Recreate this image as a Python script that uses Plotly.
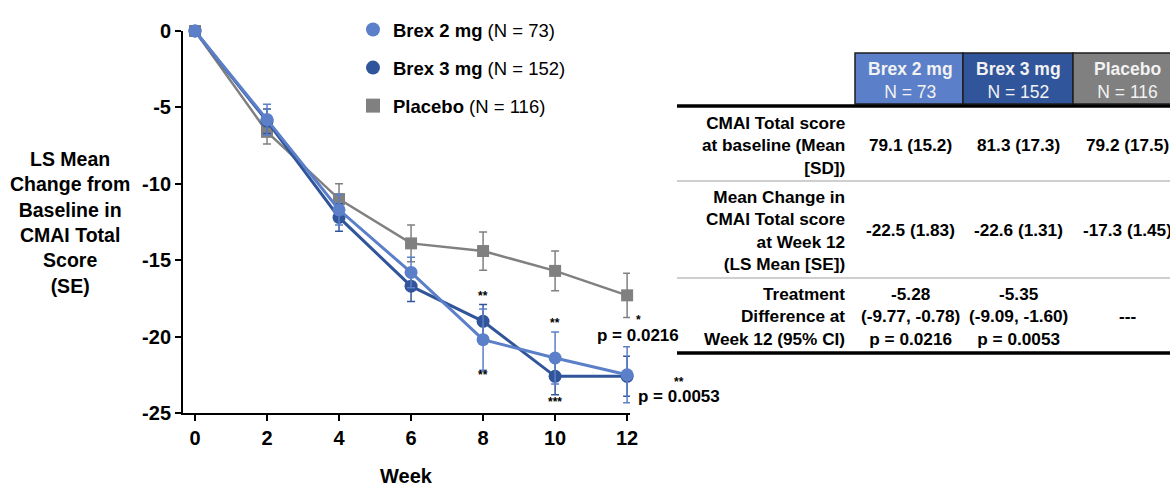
import plotly.graph_objects as go

# ---------------- data ----------------
weeks = [0, 2, 4, 6, 8, 10, 12]
brex2 = [0, -5.8, -11.7, -15.8, -20.2, -21.4, -22.5]
brex2_se = [0, 1.0, 1.0, 1.0, 2.0, 1.7, 1.83]
brex3 = [0, -5.9, -12.2, -16.7, -19.0, -22.6, -22.6]
brex3_se = [0, 0.8, 0.9, 1.0, 1.1, 1.2, 1.31]
placebo = [0, -6.6, -11.0, -13.9, -14.4, -15.7, -17.3]
placebo_se = [0, 0.8, 1.0, 1.2, 1.25, 1.3, 1.45]

legend_names = ["<b>Brex 2 mg</b> (N = 73)", "<b>Brex 3 mg</b> (N = 152)", "<b>Placebo</b> (N = 116)"]
x_ticks = [0, 2, 4, 6, 8, 10, 12]
y_ticks = [0, -5, -10, -15, -20, -25]

table_headers = [("Brex 2 mg", "N = 73"), ("Brex 3 mg", "N = 152"), ("Placebo", "N = 116")]
row_labels = [
    "CMAI Total score<br>at baseline (Mean<br>[SD])",
    "Mean Change in<br>CMAI Total score<br>at Week 12<br>(LS Mean [SE])",
    "Treatment<br>Difference at<br>Week 12 (95% CI)",
]
row_values = [
    ["79.1 (15.2)", "81.3 (17.3)", "79.2 (17.5)"],
    ["-22.5 (1.83)", "-22.6 (1.31)", "-17.3 (1.45)"],
    ["-5.28<br>(-9.77, -0.78)<br>p = 0.0216", "-5.35<br>(-9.09, -1.60)<br>p = 0.0053", "---"],
]

C2 = "#5B7FC8"
C3 = "#31559A"
CP = "#808080"

W, H = 1170, 487
def X(px):
    return px / W
def Y(py):
    return 1 - py / H

FONT = "Liberation Sans"

fig = go.Figure()

series = [
    (placebo, placebo_se, CP, "square", 12, 2.5),
    (brex3, brex3_se, C3, "circle", 13, 3),
    (brex2, brex2_se, C2, "circle", 13, 3),
]
for vals, se, col, sym, ms, lw in series:
    fig.add_trace(go.Scatter(
        x=weeks, y=vals, mode="lines+markers", showlegend=False,
        line=dict(color=col, width=lw),
        marker=dict(color=col, symbol=sym, size=ms),
        error_y=dict(type="data", array=se, color=col, thickness=1.5, width=4),
        cliponaxis=False,
    ))

# legend-only traces
for name, col, sym in zip(legend_names, [C2, C3, CP], ["circle", "circle", "square"]):
    fig.add_trace(go.Scatter(
        x=[None], y=[None], mode="markers", name=name, legendgroup=name,
        marker=dict(color=col, symbol=sym, size=14),
    ))

ann = []
star_font = dict(family=FONT, size=12, color="black")
pfont = dict(family=FONT, size=17, color="black")
def A(**kw):
    kw.setdefault("showarrow", False)
    kw.setdefault("xanchor", "center")
    kw.setdefault("yanchor", "middle")
    ann.append(kw)

# significance markers
A(x=8, y=brex3[4] + brex3_se[4], text="<b>**</b>", yshift=9, font=star_font)
A(x=8, y=brex2[4] - brex2_se[4], text="<b>**</b>", yshift=-5, font=star_font)
A(x=10, y=brex2[5] + brex2_se[5], text="<b>**</b>", yshift=9, font=star_font)
A(x=10, y=brex3[5] - brex3_se[5], text="<b>***</b>", yshift=-7, font=star_font)
A(x=12, y=brex2[6], text="<b>*</b>", xshift=11, yshift=55, font=star_font)
A(x=12, y=brex2[6], text="<b>p = 0.0216</b>", xshift=11, yshift=39, font=pfont)
A(x=12, y=brex3[6], text="<b>**</b>", xshift=52, yshift=-6, font=star_font)
A(x=12, y=brex3[6], text="<b>p = 0.0053</b>", xshift=52, yshift=-20, font=pfont)

# axis titles
A(xref="paper", yref="paper", x=X(70), y=Y(223),
  text="<b>LS Mean<br>Change from<br>Baseline in<br>CMAI Total<br>Score<br>(SE)</b>",
  align="center", font=dict(family=FONT, size=19.5, color="black"))
A(xref="paper", yref="paper", x=X(406), y=Y(476), text="<b>Week</b>",
  font=dict(family=FONT, size=20, color="black"))

shapes = []
# table header cells
hdr_cols = [C2, C3, CP]
col_edges = [855, 963, 1073, 1180]
col_centers = [910, 1018, 1127]
for i, (t1, t2) in enumerate(table_headers):
    shapes.append(dict(type="rect", xref="paper", yref="paper",
                       x0=X(col_edges[i]), x1=X(col_edges[i + 1]), y0=Y(104), y1=Y(53),
                       fillcolor=hdr_cols[i], line=dict(color="#1e1e1e", width=1.5)))
    A(xref="paper", yref="paper", x=X(col_centers[i]), y=Y(80),
      text=f"<b>{t1}</b><br>{t2}", align="center",
      font=dict(family=FONT, size=17.5, color="#f2f2f2"))

# table rules
for py, w, c in [(106, 3.5, "black"), (181, 2, "#cfcfcf"), (278, 2, "#cfcfcf"), (353, 3.5, "black")]:
    shapes.append(dict(type="line", xref="paper", yref="paper", x0=X(677), x1=X(1172),
                       y0=Y(py), y1=Y(py), line=dict(color=c, width=w)))

row_centers = [145, 230, 316]
tfont = dict(family=FONT, size=17.2, color="black")
for r, lab in enumerate(row_labels):
    A(xref="paper", yref="paper", x=X(847), y=Y(row_centers[r]), xanchor="right",
      text=f"<b>{lab}</b>", align="right", font=tfont)
    for c, v in enumerate(row_values[r]):
        A(xref="paper", yref="paper", x=X(col_centers[c]), y=Y(row_centers[r]),
          text=f"<b>{v}</b>", align="center", font=tfont)

axis_common = dict(showline=True, linecolor="black", linewidth=2, ticks="outside", ticklen=6,
                   tickwidth=2, tickcolor="black", showgrid=False, zeroline=False,
                   automargin=False,
                   tickfont=dict(family=FONT, size=20, color="black"))

fig.update_layout(
    template="none",
    width=W, height=H,
    margin=dict(l=0, r=0, t=0, b=0, autoexpand=False),
    paper_bgcolor="white", plot_bgcolor="white",
    showlegend=True,
    legend=dict(x=X(353), y=Y(11), xanchor="left", yanchor="top",
                font=dict(family=FONT, size=18.5, color="black"),
                tracegroupgap=11, traceorder="grouped", bgcolor="rgba(0,0,0,0)",
                itemwidth=30),
    annotations=ann, shapes=shapes,
    xaxis=dict(domain=[X(183), X(630)], range=[-0.333, 12.08], tickvals=x_ticks,
               ticktext=[f"<b>{t}</b>" for t in x_ticks], **axis_common),
    yaxis=dict(domain=[Y(413), Y(31)], range=[-25, 0], tickvals=y_ticks,
               ticktext=[f"<b>{t}</b>" for t in y_ticks], **axis_common),
)

fig.write_html("out.html")
